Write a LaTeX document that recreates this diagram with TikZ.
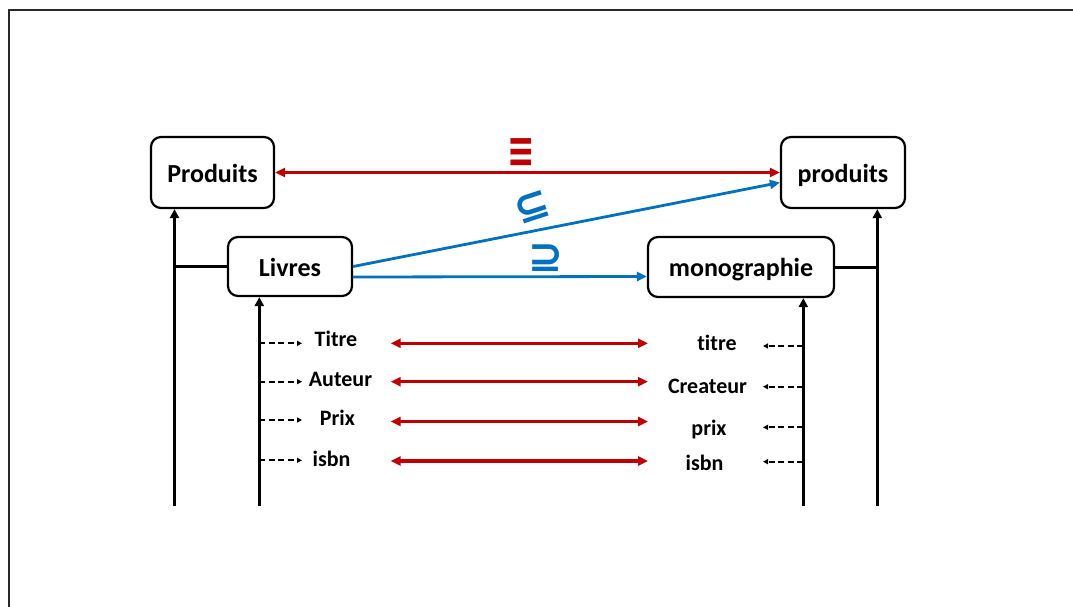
\documentclass[tikz,border=0pt]{standalone}
\usepackage{fontspec}
\setmainfont{Carlito}[Ligatures={NoCommon}]
\newfontfamily\symfont{DejaVu Sans}
\usetikzlibrary{arrows.meta}
\definecolor{relred}{RGB}{192,0,0}
\definecolor{relblue}{RGB}{0,112,192}
\definecolor{framegray}{RGB}{40,40,40}

\tikzset{
  entity/.style={draw, line width=2.2pt, rounded corners=10pt, inner sep=0pt,
    font=\fontsize{26}{26}\selectfont\bfseries, text height=19pt, text depth=0pt},
  attr/.style={anchor=base, inner sep=0pt, font=\fontsize{22}{22}\selectfont\bfseries},
  sym/.style={inner sep=0pt, font=\symfont\fontsize{42}{42}\selectfont\bfseries},
  tree/.style={line width=3pt, -{Triangle[length=9pt,width=9pt]}},
  branch/.style={line width=3pt},
  attrlink/.style={line width=1.8pt, dash pattern=on 6pt off 3.5pt, -{Triangle[length=5pt,width=5pt]}},
  equiv/.style={relred, line width=3.2pt, {Triangle[length=10pt,width=9pt]}-{Triangle[length=10pt,width=9pt]}},
  incl/.style={relblue, line width=2.8pt, -{Triangle[length=10pt,width=9pt]}},
  frame/.style={framegray, line width=1.6pt}
}

\begin{document}
\begin{tikzpicture}[x=1pt,y=-1pt]
\useasboundingbox (0,0) rectangle (1073,607);

% outer frame (top and left edges)
\coordinate (fbl) at (9,607);
\coordinate (ftl) at (9,10);
\coordinate (ftr) at (1073,10);
\draw[frame] (fbl) -- (ftl) -- (ftr);

% schema entities
\node[entity, minimum width=123pt, minimum height=71pt] (Produits) at (212.5,172.5) {Produits};
\node[entity, minimum width=124pt, minimum height=71pt] (produits) at (843,172.5) {produits};
\node[entity, minimum width=124pt, minimum height=59pt] (Livres) at (290,266.5) {Livres};
\node[entity, minimum width=186pt, minimum height=60pt] (monographie) at (741,267) {monographie};

% hierarchy trunks
\coordinate (trunkA) at (174.5,506);
\coordinate (trunkB) at (259.3,506);
\coordinate (trunkC) at (803.3,506);
\coordinate (trunkD) at (877.3,506);
\draw[tree] (trunkA) -- (trunkA |- Produits.south);
\draw[tree] (trunkB) -- (trunkB |- Livres.south);
\draw[tree] (trunkC) -- (trunkC |- monographie.south);
\draw[tree] (trunkD) -- (trunkD |- produits.south);
\draw[branch] (Livres.west) -- (Livres.west -| trunkA);
\draw[branch] (monographie.east) -- (monographie.east -| trunkD);

% mappings between entities
\draw[equiv] (Produits.east) -- (produits.west);
\draw[incl] (Livres.east) -- ([yshift=-10pt]produits.west);
\draw[incl] ([yshift=-10.5pt]Livres.east) -- ([yshift=-9.5pt]monographie.west);
\node[sym, text=relred] (eqsym) at (521.5,153) {\scalebox{0.78}[1.17]{≡}};
\node[sym, text=relblue, rotate=18] (subsym) at (532,207) {⊆};
\node[sym, text=relblue] (supsym) at (546,258) {⊇};

% attributes of Livres
\node[attr] (Titre) at (336,346.7) {Titre};
\node[attr] (Auteur) at (340.5,386.7) {Auteur};
\node[attr] (Prix) at (337.5,425) {Prix};
\node[attr] (isbnL) at (331.5,466.7) {isbn};

% attributes of monographie
\node[attr] (titre) at (717,350.7) {titre};
\node[attr] (Createur) at (707.5,393.3) {Createur};
\node[attr] (prix) at (709,435) {prix};
\node[attr] (isbnR) at (704.5,470) {isbn};

% attribute links on the left trunk
\coordinate (la1) at (259.3,343.3); \coordinate (lb1) at (302,343.3);
\coordinate (la2) at (259.3,381.7); \coordinate (lb2) at (302,381.7);
\coordinate (la3) at (259.3,420);   \coordinate (lb3) at (302,420);
\coordinate (la4) at (259.3,460.3); \coordinate (lb4) at (302,460.3);
\foreach \i in {1,...,4} { \draw[attrlink] (la\i) -- (lb\i); }

% attribute links on the right trunk
\coordinate (ra1) at (803.3,346);   \coordinate (rb1) at (763,346);
\coordinate (ra2) at (803.3,386.7); \coordinate (rb2) at (763,386.7);
\coordinate (ra3) at (803.3,427.3); \coordinate (rb3) at (763,427.3);
\coordinate (ra4) at (803.3,461.7); \coordinate (rb4) at (763,461.7);
\foreach \i in {1,...,4} { \draw[attrlink] (ra\i) -- (rb\i); }

% attribute correspondences
\coordinate (ml1) at (390.7,343.3); \coordinate (mr1) at (648,343.3);
\coordinate (ml2) at (390.7,381.7); \coordinate (mr2) at (648,381.7);
\coordinate (ml3) at (390.7,421.5); \coordinate (mr3) at (648,421.5);
\coordinate (ml4) at (390.7,461);   \coordinate (mr4) at (648,461);
\foreach \i in {1,...,4} { \draw[equiv] (ml\i) -- (mr\i); }
\end{tikzpicture}
\end{document}
